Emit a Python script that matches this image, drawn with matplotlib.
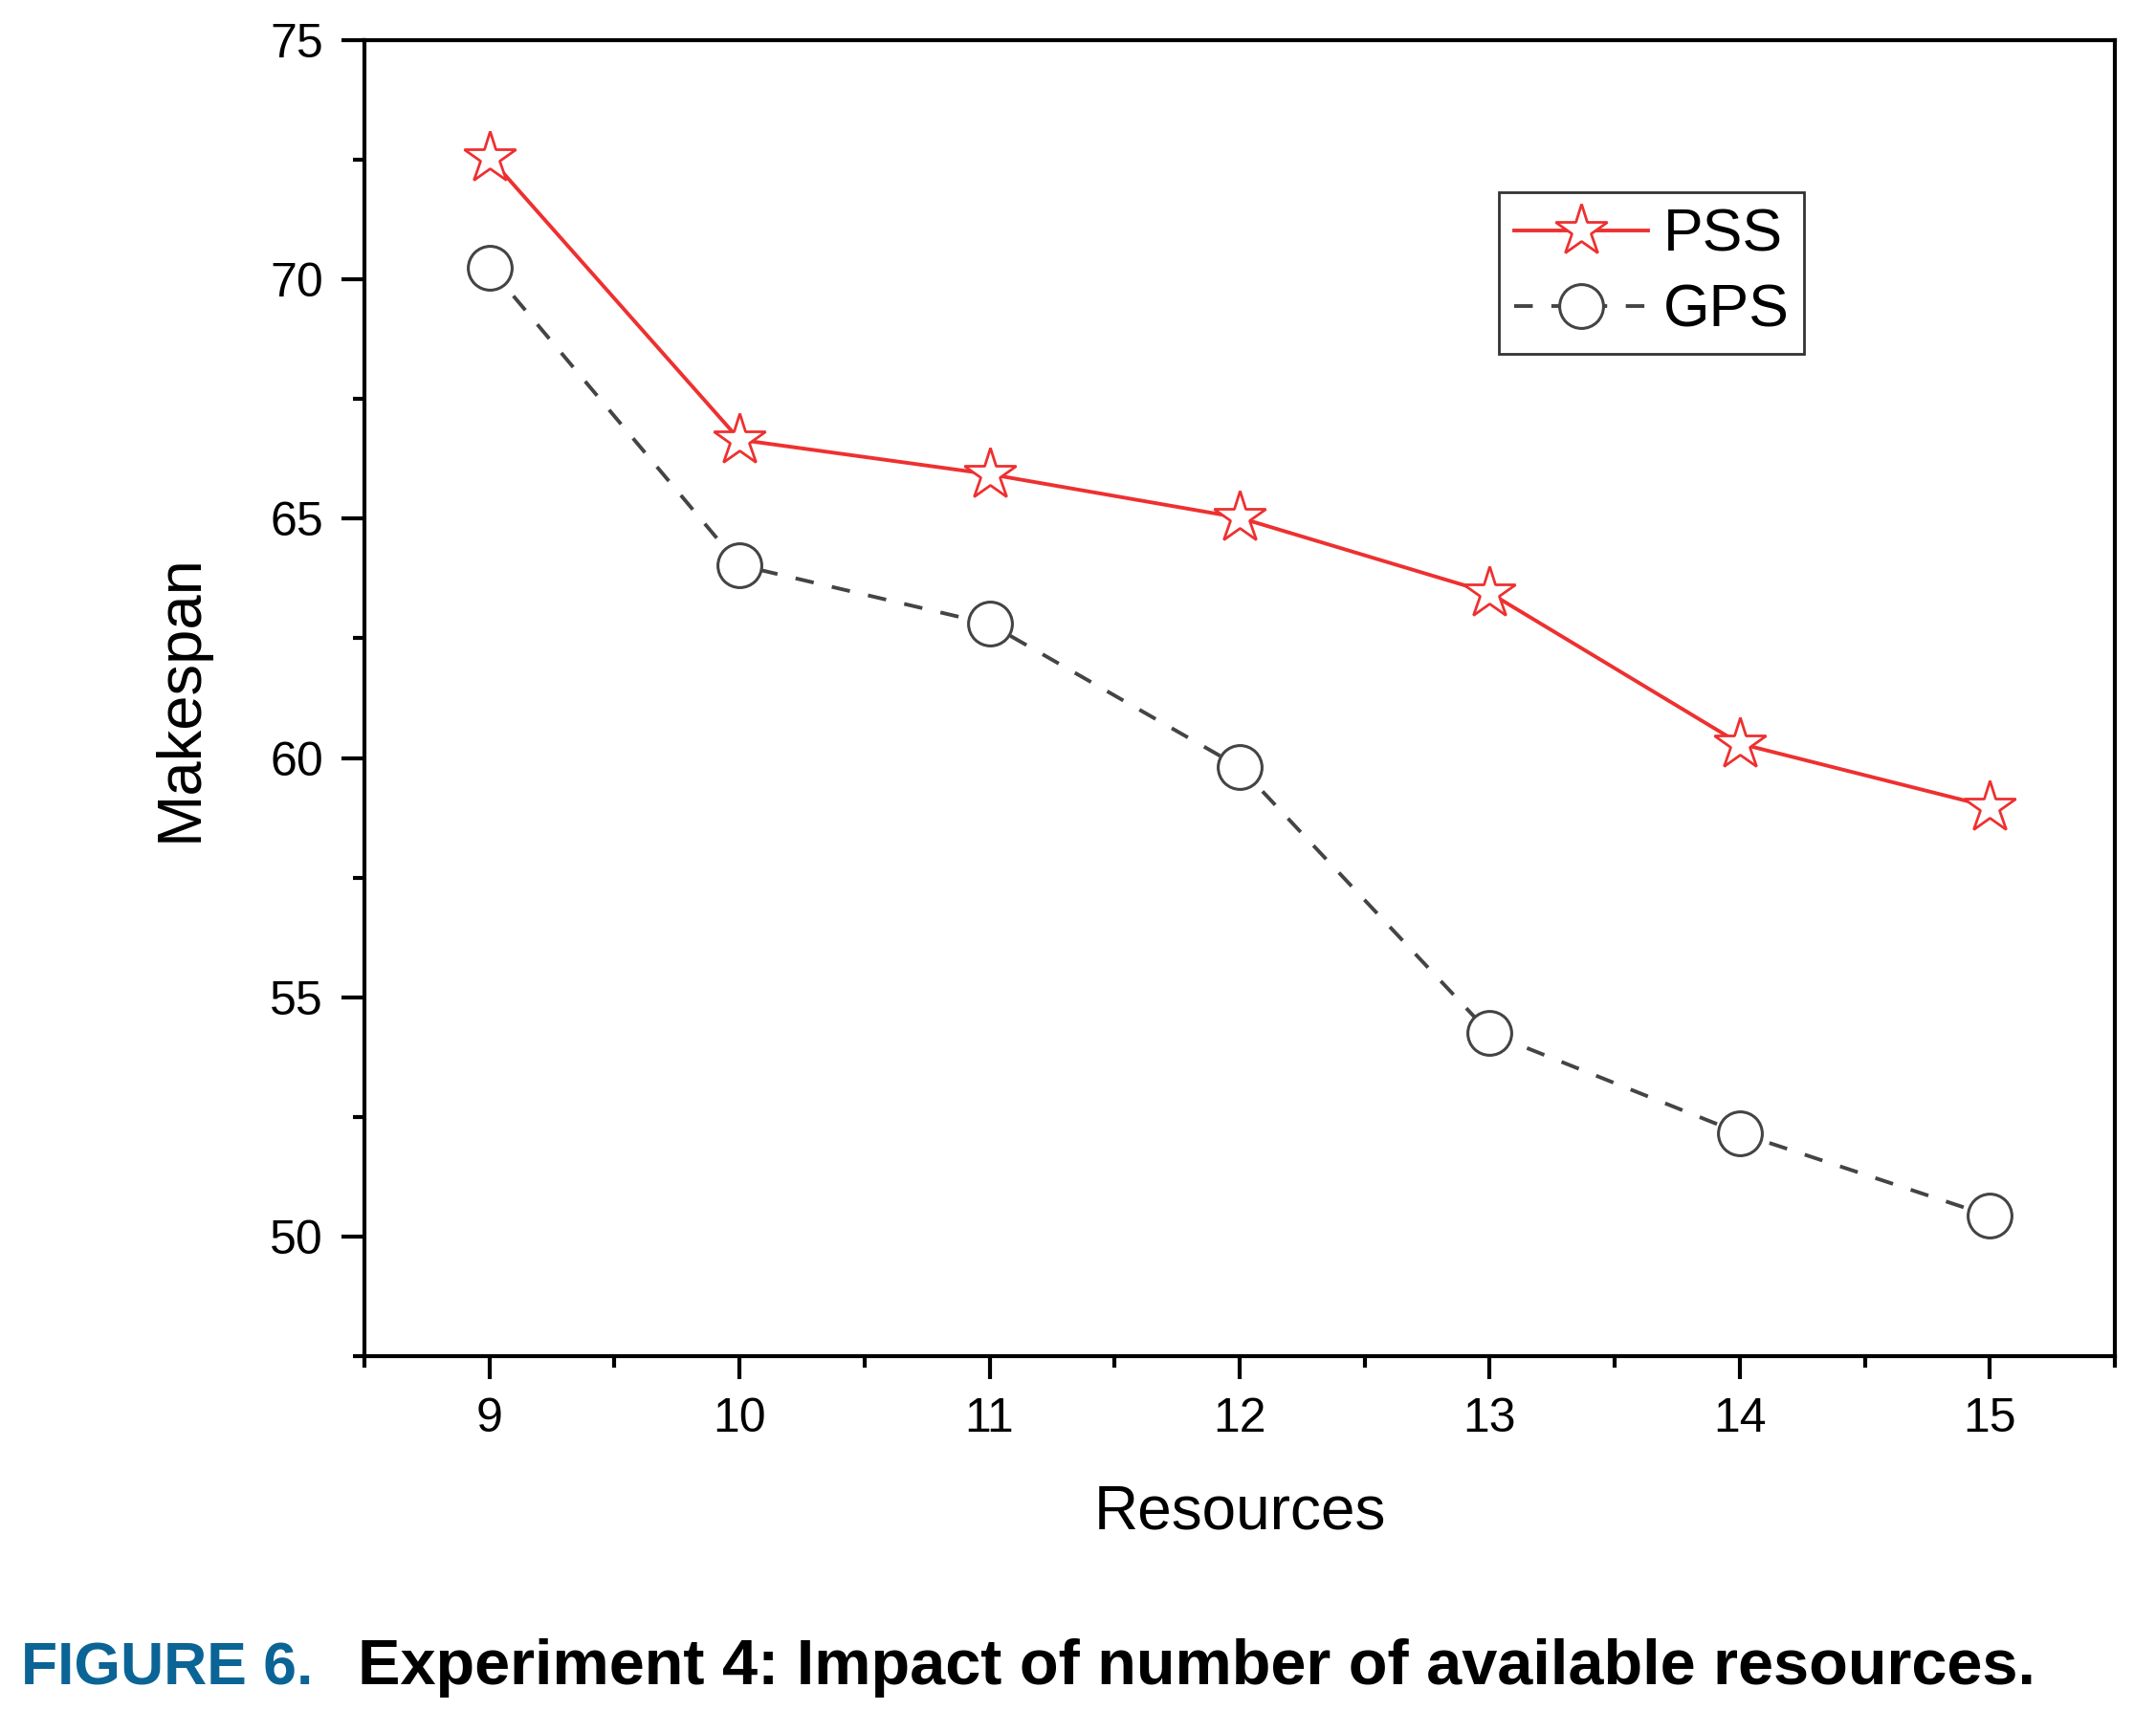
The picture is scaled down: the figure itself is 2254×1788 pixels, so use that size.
import matplotlib
matplotlib.use("Agg")
import matplotlib.pyplot as plt
from matplotlib.ticker import MultipleLocator

resources = [9, 10, 11, 12, 13, 14, 15]
pss = [72.55, 66.65, 65.93, 65.02, 63.45, 60.30, 58.98]
gps = [70.25, 64.03, 62.80, 59.81, 54.25, 52.16, 50.43]
xticks = [9, 10, 11, 12, 13, 14, 15]
yticks = [50, 55, 60, 65, 70, 75]

plt.rcParams['font.family'] = ['Liberation Sans', 'DejaVu Sans']

W, H = 2254, 1788
fig = plt.figure(figsize=(W / 100, H / 100), dpi=100)
ax = fig.add_axes([381 / W, 1 - 1418 / H, (2211 - 381) / W, (1418 - 42) / H])

red = '#EE3030'
gray = '#444444'
ax.plot(resources, pss, color=red, lw=2.8, marker='*', markersize=41,
        markerfacecolor='white', markeredgecolor=red, markeredgewidth=2.0,
        label='PSS', zorder=3)
ax.plot(resources, gps, color=gray, lw=2.8, dashes=(5, 5), marker='o',
        markersize=33, markerfacecolor='white', markeredgecolor=gray,
        markeredgewidth=2.2, label='GPS', zorder=3)

ax.set_xlim(8.5, 15.5)
ax.set_ylim(47.5, 75)
ax.set_xticks(xticks)
ax.set_yticks(yticks)
ax.xaxis.set_minor_locator(MultipleLocator(0.5))
ax.yaxis.set_minor_locator(MultipleLocator(2.5))
ax.tick_params(which='major', direction='out', length=17, width=3,
               labelsize=36, pad=14, top=False, right=False)
ax.tick_params(which='minor', direction='out', length=8.5, width=3,
               top=False, right=False)
for s in ax.spines.values():
    s.set_linewidth(3)

ax.set_xlabel('Resources', fontsize=46, labelpad=32)
ax.set_ylabel('Makespan', fontsize=47, labelpad=46)

leg = ax.legend(loc='upper left', bbox_to_anchor=((1567 - 381) / 1830, (1418 - 201) / 1376),
                fontsize=45, frameon=True, fancybox=False, edgecolor='black',
                handlelength=2.25, handletextpad=0.25, labelspacing=0.32,
                borderpad=0.25, borderaxespad=0, numpoints=1)
leg.get_frame().set_linewidth(2)

cap_font = ['Liberation Sans', 'DejaVu Sans']
fig.text(22 / W, 1 - 1761 / H, 'FIGURE 6.', fontsize=45, fontweight='bold',
         color='#0B6496', family=cap_font, va='baseline', ha='left')
fig.text(374 / W, 1 - 1761 / H, 'Experiment 4: Impact of number of available resources.',
         fontsize=48, fontweight='bold', color='black', family=cap_font,
         va='baseline', ha='left')

fig.savefig('out.png', dpi=100)
